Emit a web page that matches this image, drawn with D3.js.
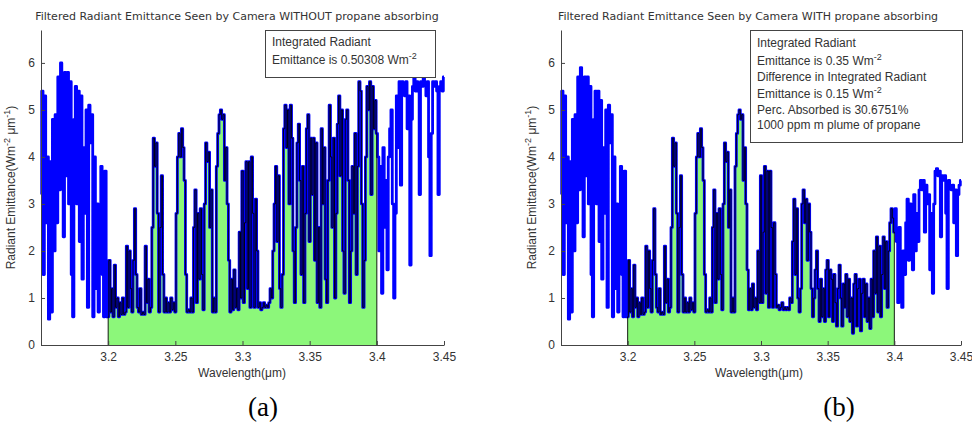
<!DOCTYPE html>
<html>
<head>
<meta charset="utf-8">
<script src="https://cdn.jsdelivr.net/npm/d3@7"></script>
<style>
  body { margin: 0; background: #fff; }
  svg text { font-family: "Liberation Sans", Arial, sans-serif; fill: #333; }
</style>
</head>
<body>
<svg id="chart" width="972" height="423"></svg>
<script>
// Sampling grid of the spectra (µm)
const wavelengthStart = 3.15;
const wavelengthStep = 0.001;

const xTicks = [3.2, 3.25, 3.3, 3.35, 3.4, 3.45];
const xTickLabels = ["3.2", "3.25", "3.3", "3.35", "3.4", "3.45"];
const yTicks = [0, 1, 2, 3, 4, 5, 6];

// Camera filter pass band (µm)
const passBand = [3.2, 3.4];

// Radiant emittance (W m^-2 µm^-1), clear path
const emittanceWithout = [
  3.2, 5.4, 1.5, 5.3, 2.6, 4.0, 0.55, 3.9, 0.7, 4.8,
  2.0, 4.9, 2.6, 5.7, 3.3, 6.0, 4.2, 2.3, 5.8, 3.6,
  5.8, 3.0, 5.6, 1.5, 0.6, 4.8, 5.5, 3.0, 5.4, 2.2,
  5.3, 1.4, 4.2, 2.8, 5.0, 0.8, 5.1, 4.3, 4.9, 0.6,
  4.0, 1.2, 3.0, 0.7, 2.4, 3.8, 1.5, 0.6, 3.7, 0.6,
  0.6, 1.8, 0.7, 1.2, 0.6, 1.7, 0.8, 1.0, 0.6, 0.9,
  0.65, 1.0, 0.65, 0.7, 2.1, 0.8, 2.0, 1.2, 0.7, 1.8,
  2.9, 1.5, 0.8, 0.7, 1.2, 0.65, 0.7, 0.65, 2.1, 0.9,
  1.4, 0.7, 0.8, 2.5, 4.4, 3.8, 4.3, 2.8, 0.7, 2.5,
  3.6, 1.5, 0.7, 1.0, 0.7, 0.9, 0.7, 1.0, 0.75, 0.9,
  0.7, 2.8, 4.0, 4.5, 4.0, 4.6, 4.2, 3.5, 1.5, 0.7,
  0.75, 0.7, 1.0, 0.7, 2.5, 3.3, 0.9, 2.8, 1.4, 2.9,
  1.5, 0.75, 3.0, 4.3, 3.9, 4.1, 2.5, 3.3, 0.7, 1.0,
  0.7, 3.8, 4.5, 4.9, 5.0, 4.8, 4.9, 3.5, 4.2, 3.0,
  1.8, 0.7, 1.4, 0.75, 1.6, 0.8, 1.2, 0.75, 2.4, 1.0,
  3.7, 0.9, 2.6, 3.9, 1.2, 3.9, 0.8, 4.0, 2.8, 0.8,
  3.1, 2.0, 0.8, 0.9, 0.75, 0.8, 0.9, 0.8, 0.85, 0.8,
  0.9, 1.2, 1.0, 2.0, 3.0, 3.8, 2.2, 3.6, 1.2, 0.8,
  1.5, 4.6, 5.1, 4.2, 5.0, 3.0, 5.1, 4.4, 2.0, 0.9,
  2.5, 4.3, 4.7, 3.5, 1.5, 3.8, 0.9, 2.8, 4.6, 4.9,
  2.2, 4.4, 3.2, 4.4, 1.8, 4.3, 0.9, 2.5, 0.8, 4.6,
  3.0, 4.2, 1.4, 0.9, 3.5, 5.1, 4.0, 2.5, 4.4, 1.0,
  2.8, 4.7, 5.3, 3.6, 5.0, 2.0, 1.1, 4.8, 5.0, 3.5,
  0.9, 2.0, 3.8, 2.8, 4.5, 1.5, 3.8, 5.6, 5.4, 3.0,
  0.8, 1.8, 4.0, 5.5, 5.0, 5.6, 3.2, 5.5, 4.6, 5.2,
  4.5, 4.0, 2.0, 3.8, 1.1, 4.2, 2.5, 3.5, 1.6, 4.0,
  4.6, 5.0, 3.0, 1.0, 2.8, 5.3, 4.2, 5.6, 3.4, 5.6,
  5.5, 5.3, 5.6, 4.6, 5.3, 1.7, 4.8, 5.5, 5.7, 5.4,
  5.6, 5.4, 3.2, 5.6, 5.5, 5.7, 5.6, 5.3, 5.6, 4.0,
  1.9, 4.5, 5.6, 5.5, 5.6, 5.4, 3.2, 5.5, 5.6, 5.4, 5.7
];

// Radiant emittance (W m^-2 µm^-1), through a 1000 ppm·m propane plume
const emittanceWith = [
  3.2, 5.4, 1.5, 5.3, 2.6, 4.0, 0.55, 3.9, 0.7, 4.8,
  2.0, 4.9, 2.6, 5.7, 3.3, 5.9, 4.2, 2.3, 5.7, 3.6,
  5.7, 3.0, 5.5, 1.5, 0.6, 4.8, 5.4, 3.0, 5.4, 2.2,
  5.2, 1.4, 4.2, 2.8, 5.0, 0.8, 5.1, 4.3, 4.9, 0.6,
  4.0, 1.2, 3.0, 0.7, 2.4, 3.8, 1.5, 0.6, 3.7, 0.6,
  0.6, 1.8, 0.7, 1.2, 0.6, 1.7, 0.8, 1.0, 0.6, 0.9,
  0.65, 1.0, 0.65, 0.7, 2.1, 0.8, 2.0, 1.2, 0.7, 1.8,
  2.9, 1.5, 0.8, 0.7, 1.2, 0.65, 0.7, 0.65, 2.1, 0.9,
  1.4, 0.7, 0.8, 2.5, 4.4, 3.8, 4.3, 2.8, 0.7, 2.5,
  3.6, 1.5, 0.7, 1.0, 0.7, 0.9, 0.7, 1.0, 0.75, 0.9,
  0.7, 2.8, 4.0, 4.5, 4.0, 4.6, 4.2, 3.5, 1.5, 0.7,
  0.75, 0.7, 1.0, 0.7, 2.5, 3.3, 0.9, 2.8, 1.4, 2.9,
  1.5, 0.75, 3.0, 4.3, 3.9, 4.1, 2.5, 3.3, 0.7, 1.0,
  0.7, 3.8, 4.5, 4.9, 5.0, 4.8, 4.9, 3.5, 4.2, 3.0,
  1.6, 0.75, 1.2, 0.75, 1.3, 0.8, 1.0, 0.75, 2.0, 0.9,
  3.6, 0.9, 2.4, 3.8, 1.1, 3.7, 0.8, 3.7, 2.5, 0.8,
  2.6, 1.5, 0.8, 0.85, 0.75, 0.8, 0.9, 0.75, 0.8, 0.75,
  0.8, 0.75, 1.0, 0.9, 2.2, 3.1, 1.5, 2.9, 1.0, 0.7,
  1.2, 3.0, 3.3, 2.6, 3.1, 1.8, 3.0, 2.4, 1.2, 0.6,
  1.0, 1.6, 2.0, 1.2, 0.5, 1.4, 0.6, 1.2, 0.5, 1.6,
  1.8, 0.6, 1.6, 1.4, 0.5, 1.5, 0.9, 0.4, 1.2, 1.7,
  1.0, 0.4, 1.3, 0.8, 1.5, 0.6, 1.4, 0.5, 1.0, 0.25,
  1.3, 1.5, 0.4, 1.2, 1.4, 0.3, 1.1, 1.4, 0.6, 1.3,
  0.5, 1.0, 0.35, 1.4, 0.6, 2.0, 1.1, 2.3, 0.7, 2.1,
  0.6, 1.5, 2.3, 1.2, 2.2, 0.8, 2.0, 2.6, 2.9, 2.7,
  2.4, 2.9, 2.2, 0.9, 2.5, 1.2, 0.8, 2.0, 1.5, 2.6,
  3.1, 1.8, 3.0, 2.4, 1.6, 3.2, 2.0, 2.8, 2.2, 3.3,
  3.5, 3.3, 3.5, 2.4, 3.4, 3.0, 3.2, 1.6, 2.8, 1.1,
  3.0, 3.7, 3.75, 3.6, 3.7, 2.3, 3.6, 3.5, 3.6, 2.8,
  1.2, 3.5, 3.4, 3.3, 3.4, 2.6, 3.3, 1.9, 3.2, 3.4, 3.5
];

const titles = [
  "Filtered Radiant Emittance Seen by Camera WITHOUT propane absorbing",
  "Filtered Radiant Emittance Seen by Camera WITH propane absorbing"
];

// Annotation lines: [text, superscript]
const notesWithout = [
  ["Integrated Radiant", ""],
  ["Emittance is 0.50308 Wm", "-2"]
];
const notesWith = [
  ["Integrated Radiant", ""],
  ["Emittance is 0.35 Wm", "-2"],
  ["Difference in Integrated Radiant", ""],
  ["Emittance is 0.15 Wm", "-2"],
  ["Perc. Absorbed is 30.6751%", ""],
  ["1000 ppm m plume of propane", ""]
];

const captions = ["(a)", "(b)"];

const svg = d3.select("#chart");

const panels = [
  { values: emittanceWithout, title: titles[0], notes: notesWithout, caption: captions[0],
    left: 41, right: 444, ylabelX: 15, box: { x: 265, y: 30, w: 170, h: 47 },
    lineYs: [46, 64], titleX: 237, captionX: 263, xlabelX: 242 },
  { values: emittanceWith, title: titles[1], notes: notesWith, caption: captions[1],
    left: 561, right: 961, ylabelX: 536, box: { x: 750, y: 30, w: 212, h: 112 },
    lineYs: [47, 65, 81, 98, 114, 129], titleX: 748, captionX: 839, xlabelX: 759 }
];

const plotTop = 30, plotBottom = 345;
const axisColor = "#444";
const labelFont = '"Liberation Sans", Arial, sans-serif';
const titleFont = '"DejaVu Sans", Verdana, sans-serif';

panels.forEach(p => {
  const data = p.values.map((v, i) => ({ w: wavelengthStart + i * wavelengthStep, v }));
  const x = d3.scaleLinear().domain([3.15, 3.45]).range([p.left, p.right]);
  const y = d3.scaleLinear().domain([0, 6.7]).range([plotBottom, plotTop]);
  const g = svg.append("g");

  const eps = 1e-9;
  const bandData = data.filter(d => d.w >= passBand[0] - eps && d.w <= passBand[1] + eps);

  // integrated pass-band region
  g.append("path")
    .datum(bandData)
    .attr("fill", "#8cf77a")
    .attr("d", d3.area().curve(d3.curveStep).x(d => x(d.w)).y0(y(0)).y1(d => y(d.v)));

  // full spectrum
  g.append("path")
    .datum(data)
    .attr("fill", "none")
    .attr("stroke", "#0000ff")
    .attr("stroke-width", 2.8)
    .attr("stroke-linejoin", "round")
    .attr("d", d3.line().curve(d3.curveStep).x(d => x(d.w)).y(d => y(d.v)));

  // outline of the pass-band region
  const outline = [{ w: passBand[0], v: 0 }, ...bandData, { w: passBand[1], v: 0 }];
  g.append("path")
    .datum(outline)
    .attr("fill", "none")
    .attr("stroke", "#000")
    .attr("stroke-width", 0.9)
    .attr("d", d3.line().curve(d3.curveStep).x(d => x(d.w)).y(d => y(d.v)));

  // axes
  const xAxis = d3.axisBottom(x).tickValues(xTicks)
    .tickFormat((d, i) => xTickLabels[i]).tickSizeInner(-4).tickSizeOuter(0).tickPadding(7);
  const yAxis = d3.axisLeft(y).tickValues(yTicks)
    .tickFormat(d3.format("d")).tickSizeInner(-4).tickSizeOuter(0).tickPadding(6);

  const gx = g.append("g").attr("transform", `translate(0,${plotBottom})`).call(xAxis);
  const gy = g.append("g").attr("transform", `translate(${p.left},0)`).call(yAxis);
  [gx, gy].forEach(a => {
    a.selectAll("path, line").attr("stroke", axisColor);
    a.selectAll("text").attr("font-size", 12).attr("fill", "#333")
      .style("font-family", labelFont);
  });

  // title
  g.append("text")
    .attr("x", p.titleX).attr("y", 20)
    .attr("text-anchor", "middle").attr("font-size", 11)
    .style("font-family", titleFont)
    .text(p.title);

  // x label
  g.append("text")
    .attr("x", p.xlabelX).attr("y", 377)
    .attr("text-anchor", "middle").attr("font-size", 12)
    .text("Wavelength(\u03bcm)");

  // y label
  const yl = g.append("text")
    .attr("transform", `translate(${p.ylabelX},${(plotTop + plotBottom) / 2}) rotate(-90)`)
    .attr("text-anchor", "middle").attr("font-size", 12);
  yl.append("tspan").text("Radiant Emittance(Wm");
  yl.append("tspan").attr("dy", -5).attr("font-size", 9).text("-2");
  yl.append("tspan").attr("dy", 5).text(" \u03bcm");
  yl.append("tspan").attr("dy", -5).attr("font-size", 9).text("-1");
  yl.append("tspan").attr("dy", 5).text(")");

  // annotation box
  g.append("rect")
    .attr("x", p.box.x + 0.5).attr("y", p.box.y + 0.5)
    .attr("width", p.box.w).attr("height", p.box.h)
    .attr("fill", "#fff").attr("stroke", axisColor).attr("stroke-width", 1);
  p.notes.forEach((n, i) => {
    const t = g.append("text")
      .attr("x", p.box.x + 7).attr("y", p.lineYs[i]).attr("font-size", 12);
    t.append("tspan").text(n[0]);
    if (n[1]) t.append("tspan").attr("dy", -5).attr("font-size", 9).text(n[1]);
  });

  // panel caption
  g.append("text")
    .attr("x", p.captionX).attr("y", 416)
    .attr("text-anchor", "middle")
    .attr("font-size", 27)
    .style("font-family", '"Liberation Serif", "Times New Roman", serif')
    .style("fill", "#000")
    .text(p.caption);
});
</script>
</body>
</html>
